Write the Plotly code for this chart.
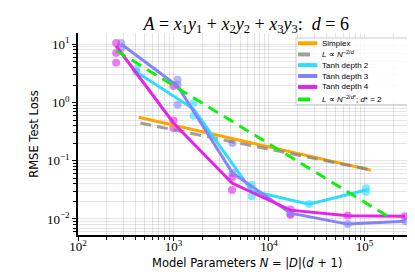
import numpy as np
import plotly.graph_objects as go

# ---- data ----
simplex_N = [432, 117000]
simplex_L = [0.557, 0.069]

ref_d_N = [450, 117000]
ref_d_L = [0.444, 0.0696]

ref_ds_N = [252, 174000]
ref_ds_L = [7.76, 0.01124]

tanh2_N = [408, 1626, 6600, 26300, 104000]
tanh2_L = [3.34, 0.773, 0.0302, 0.0180, 0.0314]
tanh2_dots_N = [408, 408, 1626, 1626, 6600, 6600, 26300, 104000, 104000]
tanh2_dots_L = [3.76, 3.34, 0.98, 0.59, 0.0387, 0.0245, 0.018, 0.0338, 0.029]

tanh3_N = [283, 1104, 4150, 16800, 66700, 268000]
tanh3_L = [10.1, 1.92, 0.0615, 0.0126, 0.00817, 0.0091]
tanh3_dots_N = [283, 283, 1104, 1104, 1104, 4150, 4150, 16800, 66700, 268000]
tanh3_dots_L = [10.5, 8.6, 2.47, 2.02, 0.92, 0.201, 0.0615, 0.0122, 0.0082, 0.0091]

tanh4_N = [251, 1000, 4100, 16800, 66700, 266000]
tanh4_L = [9.35, 0.445, 0.0414, 0.0142, 0.0114, 0.0111]
tanh4_dots_N = [251, 251, 251, 1000, 1000, 1000, 4100, 4100, 16800, 16800, 66700, 266000]
tanh4_dots_L = [10.5, 7.1, 4.8, 1.92, 0.49, 0.365, 0.051, 0.0316, 0.0145, 0.0118, 0.0115, 0.0111]

x_ticks = [1e2, 1e3, 1e4, 1e5]
x_ticktext = ["10<sup>2</sup>", "10<sup>3</sup>", "10<sup>4</sup>", "10<sup>5</sup>"]
y_ticks = [1e-2, 1e-1, 1e0, 1e1]
y_ticktext = ["10<sup>−2</sup>", "10<sup>−1</sup>", "10<sup>0</sup>", "10<sup>1</sup>"]

x_decades = [1e2, 1e3, 1e4, 1e5]
y_decades = [1e-3, 1e-2, 1e-1, 1e0, 1e1]
x_minor = [d * k for d in x_decades for k in range(2, 10)]
y_minor = [d * k for d in y_decades for k in range(2, 10)]

legend_labels = [
    "Simplex",
    "<i>L</i> ∝ <i>N</i><sup>−2/<i>d</i></sup>",
    "Tanh depth 2",
    "Tanh depth 3",
    "Tanh depth 4",
    "<i>L</i> ∝ <i>N</i><sup>−2/<i>d</i>*</sup>; <i>d</i>* = 2",
]

ORANGE = "#ffa500"
GREY = "rgba(128,128,128,0.75)"
CYAN = "#2fdcff"
PURPLE = "#8484f8"
MAGENTA = "#e424e8"
GREEN = "#11ee11"

fig = go.Figure()

def dots(N, L, color):
    fig.add_trace(go.Scatter(x=N, y=L, mode="markers", showlegend=False,
                             marker=dict(color=color, size=8, opacity=0.6, line=dict(width=0)),
                             hoverinfo="skip"))

dots(tanh2_dots_N, tanh2_dots_L, CYAN)
dots(tanh3_dots_N, tanh3_dots_L, PURPLE)
dots(tanh4_dots_N, tanh4_dots_L, MAGENTA)

LW = 3
styles = [
    (simplex_N, simplex_L, ORANGE, "solid"),
    (ref_d_N, ref_d_L, GREY, "11px,6px"),
    (tanh2_N, tanh2_L, CYAN, "solid"),
    (tanh3_N, tanh3_L, PURPLE, "solid"),
    (tanh4_N, tanh4_L, MAGENTA, "solid"),
    (ref_ds_N, ref_ds_L, GREEN, "11px,7px"),
]
for (N, L, c, dash), name in zip(styles, legend_labels):
    fig.add_trace(go.Scatter(x=N, y=L, mode="lines", name=name, showlegend=False,
                             line=dict(color=c, width=LW, dash=dash)))

# ---- compact legend box (matplotlib style) ----
LEG_X0, LEG_X1 = 0.645, 0.997
LEG_TOP, LEG_BOT = 0.975, 0.645
row_y = [0.949, 0.894, 0.841, 0.787, 0.733, 0.671]
fig.add_shape(type="rect", xref="paper", yref="paper", x0=LEG_X0, x1=LEG_X1,
              y0=LEG_BOT, y1=LEG_TOP, fillcolor="rgba(255,255,255,0.85)",
              line=dict(color="#cccccc", width=1), layer="above")
for (N, L, c, dash), name, ry in zip(styles, legend_labels, row_y):
    fig.add_shape(type="line", xref="paper", yref="paper", x0=LEG_X0 + 0.006, x1=LEG_X0 + 0.063,
                  y0=ry, y1=ry, line=dict(color=c, width=4,
                                          dash="dash" if dash != "solid" else "solid"),
                  layer="above")
    fig.add_annotation(xref="paper", yref="paper", x=LEG_X0 + 0.072, y=ry, text=name,
                       showarrow=False, xanchor="left", yanchor="middle",
                       font=dict(family="Liberation Sans, Arial, sans-serif", size=8, color="black"))

GRID = "rgba(0,0,0,0.10)"
SERIF = "Liberation Serif, DejaVu Serif, serif"
SANS = "DejaVu Sans, sans-serif"

# x-axis title placed just under the tick labels
fig.add_annotation(xref="paper", yref="paper", x=0.5, y=-0.139, xanchor="center", yanchor="middle",
                   text="Model Parameters <i>N</i> = |<i>D</i>|(<i>d</i> + 1)", showarrow=False,
                   font=dict(family=SANS, size=11.5, color="black"))

fig.update_layout(
    width=415, height=277,
    margin=dict(l=70, r=7, t=25, b=50),
    paper_bgcolor="white", plot_bgcolor="white",
    title=dict(text="<i>A</i> = <i>x</i><sub>1</sub><i>y</i><sub>1</sub> + <i>x</i><sub>2</sub><i>y</i><sub>2</sub> + <i>x</i><sub>3</sub><i>y</i><sub>3</sub>:  <i>d</i> = 6",
               x=0.574, xanchor="center", y=0.945, yanchor="middle",
               font=dict(family=SERIF, size=18, color="black")),
    showlegend=False,
)

fig.update_xaxes(
    type="log", range=[2, 5.54],
    tickvals=x_ticks, ticktext=x_ticktext,
    tickfont=dict(family=SERIF, size=13, color="black"),
    ticks="outside", ticklen=4, tickwidth=1.2, tickcolor="black",
    ticklabelstandoff=-5,
    showline=True, linecolor="black", linewidth=1.5,
    showgrid=True, gridcolor=GRID, gridwidth=1,
    minor=dict(tickmode="array", tickvals=x_minor, ticks="outside", ticklen=3,
               tickcolor="black", showgrid=True, gridcolor=GRID),
    zeroline=False,
)
fig.update_yaxes(
    type="log", range=[-2.275, 1.194],
    tickvals=y_ticks, ticktext=y_ticktext,
    tickfont=dict(family=SERIF, size=13, color="black"),
    ticks="outside", ticklen=4, tickwidth=1.2, tickcolor="black",
    showline=True, linecolor="black", linewidth=1.5,
    showgrid=True, gridcolor=GRID, gridwidth=1,
    minor=dict(tickmode="array", tickvals=y_minor, ticks="outside", ticklen=3,
               tickcolor="black", showgrid=True, gridcolor=GRID),
    zeroline=False,
    title=dict(text="RMSE Test Loss", font=dict(family=SANS, size=11.5, color="black"), standoff=6),
)

fig.write_html("out.html")
